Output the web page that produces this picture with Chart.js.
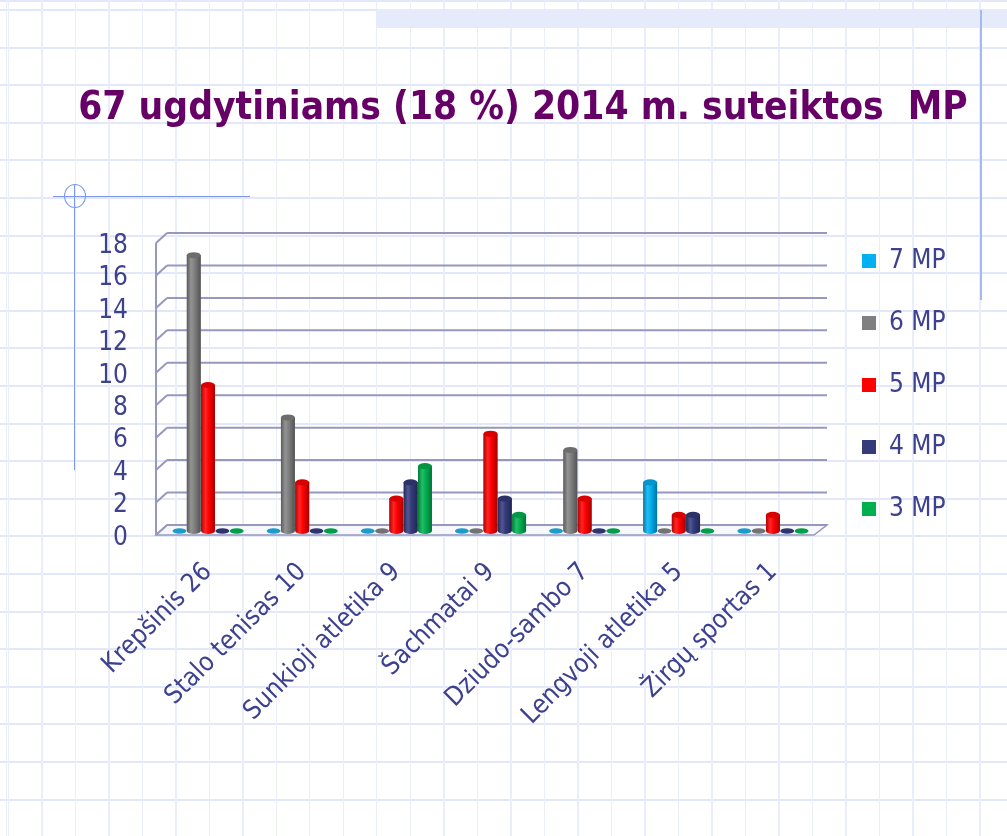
<!DOCTYPE html>
<html>
<head>
<meta charset="utf-8">
<script src="https://cdn.jsdelivr.net/npm/chart.js@4.4.1/dist/chart.umd.min.js"></script>
<style>
  html, body { margin: 0; padding: 0; }
  body {
    width: 1007px; height: 836px; overflow: hidden; position: relative;
    background-color: #ffffff;
    background-image:
      repeating-linear-gradient(to right, #eaeefb 0px, #eaeefb 1px, transparent 1px, transparent 33.5px),
      repeating-linear-gradient(to bottom, #e2e8f9 0px, #e2e8f9 2px, transparent 2px, transparent 37.6px);
    background-position: 8px 0px, 0px 9px;
  }
  .deco { position: absolute; }
  #band { left: 376px; top: 9px; width: 631px; height: 19px; background: #e5ebfa; }
  #vright { left: 980px; top: 10px; width: 2px; height: 290px; background: #a5b8f3; }
  #vleft { left: 74px; top: 184px; width: 1px; height: 286px; background: #7c97ef; }
  #hleft { left: 53px; top: 196px; width: 197px; height: 1px; background: #7c97ef; }
  #circ { left: 64px; top: 184px; width: 20px; height: 22px; border: 1px solid #7c97ef; border-radius: 50%; }
  #wrap { position: absolute; left: 0; top: 0; width: 1007px; height: 836px; }
</style>
</head>
<body>
<div class="deco" id="band"></div>
<div class="deco" id="vright"></div>
<div class="deco" id="vleft"></div>
<div class="deco" id="hleft"></div>
<div class="deco" id="circ"></div>
<div id="wrap"><canvas id="c" width="1007" height="836"></canvas></div>
<script>
const categories = ['Krepšinis 26', 'Stalo tenisas 10', 'Sunkioji atletika 9', 'Šachmatai 9', 'Dziudo-sambo 7', 'Lengvoji atletika 5', 'Žirgų sportas 1'];
const seriesNames = ['7 MP', '6 MP', '5 MP', '4 MP', '3 MP'];
const mp7 = [0, 0, 0, 0, 0, 3, 0];
const mp6 = [17, 7, 0, 0, 5, 0, 0];
const mp5 = [9, 3, 2, 6, 2, 1, 1];
const mp4 = [0, 0, 3, 2, 0, 1, 0];
const mp3 = [0, 0, 4, 1, 0, 0, 0];
const yTicks = [0, 2, 4, 6, 8, 10, 12, 14, 16, 18];
const colors = ['#00B0F0', '#808080', '#FF0000', '#343A7C', '#00B050'];

const FONT = '"DejaVu Sans Condensed", "DejaVu Sans", sans-serif';
const TXT = '#3D418E';
const GRID = '#9698BD';
const FS = 26;

const mctx = document.createElement('canvas').getContext('2d');
mctx.font = FS + 'px ' + FONT;
const maxLegendText = Math.max(...seriesNames.map(s => mctx.measureText(s).width));
const LEG_PAD = 36, BOXW = 14;
const legendWidth = LEG_PAD + BOXW + FS / 2 + maxLegendText + 10;
const SPACER = 6;
const targetLeft = 161, targetRight = 820, targetTop = 239, targetBottom = 531;
const PAD_LEFT = 40, PAD_RIGHT = 1; // title centre = (PAD_LEFT + 1007 - PAD_RIGHT) / 2
const outerSpacer = Math.max(0, 1007 - PAD_RIGHT - targetRight - SPACER - legendWidth);
const PAD_BOTTOM = 66;
const TITLE_FS = 38.6, TITLE_TOP = 86;
const titleBottomPad = targetTop - TITLE_TOP - TITLE_FS * 1.2;

function shade(hex, f) {
  const n = parseInt(hex.slice(1), 16);
  let r = (n >> 16) & 255, g = (n >> 8) & 255, b = n & 255;
  if (f < 0) { r *= (1 + f); g *= (1 + f); b *= (1 + f); }
  else { r += (255 - r) * f; g += (255 - g) * f; b += (255 - b) * f; }
  return 'rgb(' + Math.round(r) + ',' + Math.round(g) + ',' + Math.round(b) + ')';
}

const pseudo3d = {
  id: 'pseudo3d',
  beforeDatasetsDraw(chart) {
    const {ctx, chartArea: a, scales: {y}} = chart;
    ctx.save();
    const fb = y.getPixelForValue(0);
    ctx.beginPath();
    ctx.moveTo(a.left - 5, fb + 4);
    ctx.lineTo(a.right - 6, fb + 4);
    ctx.lineTo(a.right + 7, fb - 6);
    ctx.lineTo(a.left + 6, fb - 6);
    ctx.closePath();
    ctx.fillStyle = 'rgba(246,247,252,0.9)';
    ctx.fill();
    ctx.lineWidth = 1.5;
    ctx.strokeStyle = GRID;
    ctx.stroke();
    ctx.lineWidth = 2;
    yTicks.forEach(v => {
      const py = y.getPixelForValue(v);
      ctx.beginPath();
      ctx.moveTo(a.left + 6, py - 6);
      ctx.lineTo(a.right + 7, py - 6);
      ctx.stroke();
      ctx.beginPath();
      ctx.moveTo(a.left - 5, py + 4);
      ctx.lineTo(a.left + 6, py - 6);
      ctx.stroke();
    });
    ctx.beginPath();
    ctx.moveTo(a.left - 5, y.getPixelForValue(18) + 4);
    ctx.lineTo(a.left - 5, fb + 4);
    ctx.stroke();
    ctx.restore();
  },
  afterDatasetsDraw(chart) {
    const {ctx} = chart;
    ctx.save();
    chart.data.datasets.forEach((ds, di) => {
      const meta = chart.getDatasetMeta(di);
      const base = ds.backgroundColor;
      meta.data.forEach((bar, i) => {
        const v = ds.data[i];
        const w = bar.width, cx = bar.x, rx = w / 2, ry = 3;
        const x0 = cx - rx;
        if (v <= 0) {
          ctx.beginPath();
          ctx.ellipse(cx, bar.base, rx, 2.8, 0, 0, Math.PI * 2);
          ctx.fillStyle = di === 0 ? '#1C9CCB' : shade(base, -0.1);
          ctx.fill();
          return;
        }
        const top = bar.y, bot = bar.base;
        const g = ctx.createLinearGradient(x0, 0, x0 + w, 0);
        g.addColorStop(0, shade(base, -0.3));
        g.addColorStop(0.3, shade(base, 0.15));
        g.addColorStop(0.55, base);
        g.addColorStop(1, shade(base, -0.35));
        ctx.beginPath();
        ctx.moveTo(x0, top);
        ctx.lineTo(x0, bot);
        ctx.ellipse(cx, bot, rx, ry, 0, Math.PI, 0, true);
        ctx.lineTo(x0 + w, top);
        ctx.closePath();
        ctx.fillStyle = g;
        ctx.fill();
        ctx.beginPath();
        ctx.ellipse(cx, top, rx, ry, 0, 0, Math.PI * 2);
        ctx.fillStyle = shade(base, -0.15);
        ctx.fill();
      });
    });
    ctx.restore();
  }
};

const datasets = [mp7, mp6, mp5, mp4, mp3].map((d, i) => ({
  label: seriesNames[i],
  data: d,
  backgroundColor: colors[i],
  borderWidth: 0,
  yAxisID: 'y',
  categoryPercentage: 0.76,
  barPercentage: 0.97
}));

new Chart(document.getElementById('c'), {
  type: 'bar',
  data: { labels: categories, datasets },
  options: {
    responsive: false,
    animation: false,
    layout: { padding: { top: 0, left: PAD_LEFT, right: PAD_RIGHT, bottom: PAD_BOTTOM } },
    plugins: {
      title: {
        display: true,
        text: '67 ugdytiniams (18 %) 2014 m. suteiktos  MP',
        color: '#660066',
        font: { family: FONT, size: TITLE_FS, weight: 'bold', lineHeight: 1.2 },
        padding: { top: TITLE_TOP, bottom: titleBottomPad }
      },
      legend: {
        position: 'right',
        align: 'center',
        maxWidth: 400,
        labels: {
          color: TXT,
          font: { family: FONT, size: FS },
          boxWidth: BOXW,
          boxHeight: 14,
          padding: LEG_PAD
        }
      },
      tooltip: { enabled: false }
    },
    scales: {
      x: {
        grid: { display: false },
        border: { display: false },
        ticks: {
          color: TXT,
          font: { family: FONT, size: FS },
          maxRotation: 45, minRotation: 45,
          autoSkip: false,
          padding: 18
        },
        afterFit(s) { s.height = 836 - PAD_BOTTOM - targetBottom; }
      },
      y: {
        position: 'left',
        min: 0, max: 18,
        grid: { display: false },
        border: { display: false },
        afterBuildTicks(s) { s.ticks = yTicks.map(v => ({ value: v })); },
        ticks: {
          color: TXT,
          font: { family: FONT, size: FS },
          autoSkip: false,
          padding: 25,
          labelOffset: 7
        },
        afterFit(s) { s.width = targetLeft - PAD_LEFT; }
      },
      y2: {
        position: 'right',
        display: true,
        grid: { display: false },
        border: { display: false },
        ticks: { display: false },
        afterFit(s) { s.width = SPACER; }
      },
      y3: {
        position: 'right',
        weight: 2000,
        display: true,
        grid: { display: false },
        border: { display: false },
        ticks: { display: false },
        afterFit(s) { s.width = outerSpacer; }
      }
    }
  },
  plugins: [pseudo3d]
});
</script>
</body>
</html>
